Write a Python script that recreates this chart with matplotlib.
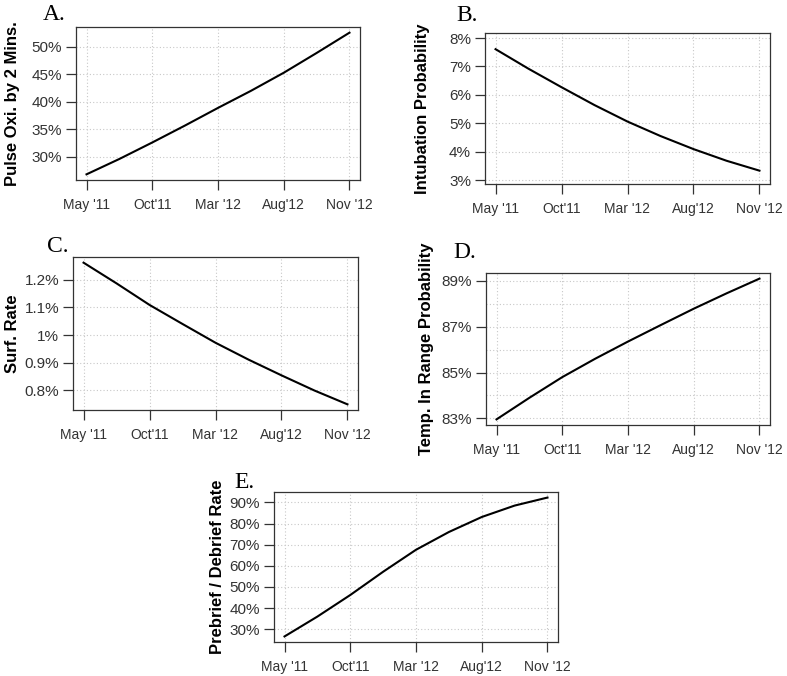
import numpy as np
from matplotlib import pyplot as plt
from matplotlib.ticker import FuncFormatter

plt.rcParams['font.family'] = ['Liberation Sans', 'DejaVu Sans']

# time index (equal steps between labelled dates)
t = [0, 0.5, 1, 1.5, 2, 2.5, 3, 3.5, 4]
xlabels = ["May '11", "Oct'11", "Mar '12", "Aug'12", "Nov '12"]

# values, in percent
pulse_oxi = [26.8, 29.6, 32.6, 35.7, 38.9, 42.0, 45.3, 48.9, 52.6]
intubation = [7.61, 6.92, 6.27, 5.64, 5.06, 4.55, 4.09, 3.68, 3.33]
surf_rate = [1.262, 1.187, 1.109, 1.040, 0.972, 0.911, 0.854, 0.799, 0.749]
temp_range = [82.96, 83.90, 84.80, 85.60, 86.35, 87.07, 87.78, 88.45, 89.09]
debrief = [26.6, 36.0, 46.2, 57.2, 67.6, 76.0, 83.1, 88.5, 92.3]

W, H = 787, 676
fig = plt.figure(figsize=(W / 100, H / 100), dpi=100)


def box(l, t_, r, b):
    return [l / W, 1 - b / H, (r - l) / W, (b - t_) / H]


def pct(v, pos):
    s = ('%.1f' % v).rstrip('0').rstrip('.')
    return s + '%'


def panel(rect, y, ylabel, letter, lpos, labx, yticks, grid_y=None, ylim=None):
    ax = fig.add_axes(box(*rect))
    ax.plot(t, y, color='black', lw=1.5, solid_joinstyle='round')
    ax.set_xlim(-0.16, 4.16)
    if ylim is None:
        lo, hi = min(y), max(y)
        pad = (hi - lo) * 0.04
        ax.set_ylim(lo - pad, hi + pad)
    else:
        ax.set_ylim(*ylim)
    ax.set_xticks(range(5))
    ax.set_xticklabels(xlabels)
    ax.set_yticks(yticks)
    ax.yaxis.set_major_formatter(FuncFormatter(pct))
    gy = yticks if grid_y is None else grid_y
    for g in gy:
        ax.axhline(g, color='#c8c8c8', lw=0.8, ls=(0, (1, 2)), zorder=0)
    for g in range(5):
        ax.axvline(g, color='#c8c8c8', lw=0.8, ls=(0, (1, 2)), zorder=0)
    for s in ax.spines.values():
        s.set_color('#333333')
        s.set_linewidth(0.9)
    ax.tick_params(direction='out', length=7, width=0.9, color='#333333',
                   labelcolor='#333333', pad=3)
    ax.tick_params(axis='y', labelsize=11)
    ax.tick_params(axis='x', labelsize=10, pad=6)
    fig.text(labx / W, 1 - (rect[1] + rect[3]) / 2 / H, ylabel, rotation=90,
             ha='center', va='center', fontsize=12, fontweight='bold')
    fig.text(lpos[0] / W, 1 - lpos[1] / H, letter, family='Liberation Serif',
             fontsize=17, ha='left', va='baseline')
    return ax


panel((76, 27, 360, 180), pulse_oxi, 'Pulse Oxi. by 2 Mins.', 'A.', (43, 20), 13,
      [30, 35, 40, 45, 50])
panel((485, 33, 770, 184), intubation, 'Intubation Probability', 'B.', (456, 21), 423,
      [3, 4, 5, 6, 7, 8], ylim=(2.86, 8.18))
panel((73, 257, 358, 410), surf_rate, 'Surf. Rate', 'C.', (47, 252), 13,
      [0.8, 0.9, 1.0, 1.1, 1.2])
panel((486, 273, 770, 425), temp_range, 'Temp. In Range Probability', 'D.', (453, 258), 427,
      [83, 85, 87, 89], grid_y=[83, 84, 85, 86, 87, 88, 89])
panel((274, 492, 558, 642), debrief, 'Prebrief / Debrief Rate', 'E.', (234, 488), 217,
      [30, 40, 50, 60, 70, 80, 90])

fig.savefig('out.png', dpi=100)
